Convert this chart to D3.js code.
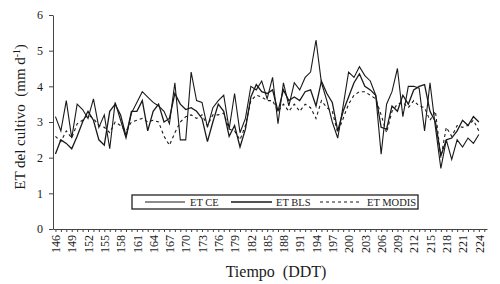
<!DOCTYPE html>
<html>
<head>
<meta charset="utf-8">
<script src="https://cdn.jsdelivr.net/npm/d3@7"></script>
<style>
  body { margin: 0; background: #fff; }
  svg text { font-family: "Liberation Serif", "Times New Roman", serif; fill: #1a1a1a; }
</style>
</head>
<body>
<svg id="et-chart"></svg>
<script>
// Days after planting (DDT)
const days = [146, 147, 148, 149, 150, 151, 152, 153, 154, 155, 156, 157, 158, 159, 160,
    161, 162, 163, 164, 165, 166, 167, 168, 169, 170, 171, 172, 173, 174, 175,
    176, 177, 178, 179, 180, 181, 182, 183, 184, 185, 186, 187, 188, 189, 190,
    191, 192, 193, 194, 195, 196, 197, 198, 199, 200, 201, 202, 203, 204, 205,
    206, 207, 208, 209, 210, 211, 212, 213, 214, 215, 216, 217, 218, 219, 220,
    221, 222, 223, 224];

// ET values (mm/d)
const etCE = [3.15, 2.75, 3.6, 2.55, 3.5, 3.35, 3.1, 3.65, 2.85, 3.2, 2.25, 3.55, 3.05, 2.55, 3.25,
    3.55, 3.85, 3.7, 3.55, 3.45, 3.3, 2.95, 4.1, 2.5, 2.5, 4.4, 3.6, 3.55, 2.85, 3.4,
    3.6, 3.75, 2.8, 3.8, 2.7, 3.1, 4.0, 3.9, 4.15, 3.65, 4.25, 2.95, 4.1, 3.45, 4.1,
    3.9, 4.25, 4.4, 5.3, 4.1, 3.6, 3.0, 2.55, 3.45, 4.4, 4.25, 4.55, 4.3, 4.15, 3.75,
    2.1, 3.5, 3.85, 4.5, 3.15, 4.0, 4.0, 3.95, 2.75, 4.1, 2.85, 1.7, 2.5, 1.95, 2.5,
    2.3, 2.55, 2.4, 2.65];

const etBLS = [2.1, 2.5, 2.4, 2.25, 2.6, 3.0, 3.3, 3.05, 2.5, 2.35, 3.3, 3.5, 3.2, 2.6, 3.3,
    3.3, 3.6, 2.75, 3.3, 3.5, 3.0, 3.1, 3.8, 3.5, 3.35, 3.4, 3.3, 3.1, 2.45, 3.0,
    3.5, 3.3, 2.6, 2.9, 2.3, 2.8, 3.7, 4.05, 3.85, 3.8, 3.9, 3.3, 3.9, 3.6, 3.7,
    3.6, 3.85, 3.9, 3.45, 4.15, 3.8, 3.55, 2.75, 3.3, 3.7, 4.1, 4.35, 4.0, 3.9, 3.75,
    2.85, 2.8, 3.45, 3.3, 3.75, 3.5, 3.9, 4.0, 4.05, 3.3, 3.0, 2.05, 2.5, 2.55, 2.75,
    3.05, 2.9, 3.15, 3.0];

const etMODIS = [2.6, 2.45, 2.75, 2.55, 2.95, 3.05, 3.2, 3.1, 2.9, 2.85, 2.7, 3.0, 2.9, 2.75, 3.0,
    3.05, 3.1, 3.0, 3.05, 3.0, 2.6, 2.35, 2.7, 3.0, 3.15, 3.2, 3.1, 3.2, 2.9, 3.2,
    3.2, 3.25, 2.8, 2.75, 2.5, 2.9, 3.6, 3.75, 3.7, 3.6, 3.6, 3.3, 3.5, 3.3, 3.5,
    3.3, 3.5, 3.4, 3.1, 3.6, 3.4, 3.3, 2.7, 3.1, 3.5, 3.75, 3.85, 3.85, 3.75, 3.65,
    3.2, 2.7, 3.3, 3.5, 3.55, 3.4, 3.6, 3.45, 3.4, 3.05, 3.3, 2.0, 2.85, 2.6, 2.9,
    2.85, 2.9, 3.05, 2.75];

// Axis ticks
const minorTicks = [146, 147, 148, 149, 150, 151, 152, 153, 154, 155, 156, 157, 158, 159, 160,
    161, 162, 163, 164, 165, 166, 167, 168, 169, 170, 171, 172, 173, 174, 175,
    176, 177, 178, 179, 180, 181, 182, 183, 184, 185, 186, 187, 188, 189, 190,
    191, 192, 193, 194, 195, 196, 197, 198, 199, 200, 201, 202, 203, 204, 205,
    206, 207, 208, 209, 210, 211, 212, 213, 214, 215, 216, 217, 218, 219, 220,
    221, 222, 223, 224, 225];
const xTickLabels = [146, 149, 152, 155, 158, 161, 164, 167, 170, 173, 176, 179, 182,
    185, 188, 191, 194, 197, 200, 203, 206, 209, 212, 215, 218, 221, 224];
const yTicks = [0, 1, 2, 3, 4, 5, 6];

const series = [
    { name: "ET CE", values: etCE, width: 1.1, dash: null },
    { name: "ET BLS", values: etBLS, width: 1.3, dash: null },
    { name: "ET MODIS", values: etMODIS, width: 1.1, dash: "3,3" }
];

const totalWidth = 500, totalHeight = 284;
const margin = { top: 15, right: 13, bottom: 55, left: 53 };
const width = totalWidth - margin.left - margin.right;
const height = totalHeight - margin.top - margin.bottom;

const svg = d3.select("#et-chart")
    .attr("width", totalWidth)
    .attr("height", totalHeight);

const g = svg.append("g")
    .attr("transform", `translate(${margin.left},${margin.top})`);

const x = d3.scaleLinear()
    .domain([145.55, 225.5])
    .range([0, width]);

const y = d3.scaleLinear()
    .domain([0, 6])
    .range([height, 0]);

// Lines
const line = d3.line()
    .x((d, i) => x(days[i]))
    .y(d => y(d));

series.forEach(s => {
    g.append("path")
        .datum(s.values)
        .attr("fill", "none")
        .attr("stroke", "#1a1a1a")
        .attr("stroke-width", s.width)
        .attr("stroke-dasharray", s.dash)
        .attr("stroke-linejoin", "miter")
        .attr("d", line);
});

// X axis
const labelSet = new Set(xTickLabels);
const xAxis = g.append("g")
    .attr("transform", `translate(0,${height})`)
    .call(d3.axisBottom(x)
        .tickValues(minorTicks)
        .tickSize(3)
        .tickSizeOuter(0)
        .tickFormat(d => labelSet.has(d) ? d : ""));

xAxis.selectAll("text")
    .attr("transform", "rotate(-90)")
    .attr("x", -6)
    .attr("y", 0)
    .attr("dy", "0.35em")
    .style("text-anchor", "end")
    .style("font-size", "12px");

// Y axis
const yAxis = g.append("g")
    .call(d3.axisLeft(y)
        .tickValues(yTicks)
        .tickSize(4)
        .tickSizeOuter(0)
        .tickFormat(d3.format("d")));

yAxis.selectAll("text")
    .attr("x", -10)
    .style("font-size", "12px");

svg.selectAll(".domain, .tick line")
    .attr("stroke", "#444")
    .attr("stroke-width", 1);

// Axis titles (double spaces kept as in the original figure)
svg.append("text")
    .attr("x", margin.left + width / 2 + 6)
    .attr("y", 277)
    .style("text-anchor", "middle")
    .style("font-size", "16px")
    .text("Tiempo\u00a0\u00a0(DDT)");

const yTitle = svg.append("text")
    .attr("transform", `translate(25,${margin.top + height / 2 - 5}) rotate(-90)`)
    .style("text-anchor", "middle")
    .style("font-size", "15px");
yTitle.append("tspan").text("ET del cultivo\u00a0\u00a0(mm d");
yTitle.append("tspan").attr("dy", -5).style("font-size", "9.5px").text("-1");
yTitle.append("tspan").attr("dy", 5).text(")");

// Legend
const legend = svg.append("g");
legend.append("rect")
    .attr("x", 132)
    .attr("y", 195)
    .attr("width", 286)
    .attr("height", 14)
    .attr("fill", "#fff")
    .attr("stroke", "#222")
    .attr("stroke-width", 1.3);

const legendItems = [
    { x1: 145, x2: 185, tx: 190 },
    { x1: 231, x2: 272, tx: 276 },
    { x1: 320, x2: 360, tx: 367 }
];

series.forEach((s, i) => {
    const it = legendItems[i];
    legend.append("line")
        .attr("x1", it.x1).attr("x2", it.x2)
        .attr("y1", 202).attr("y2", 202)
        .attr("stroke", "#1a1a1a")
        .attr("stroke-width", s.width)
        .attr("stroke-dasharray", s.dash);
    legend.append("text")
        .attr("x", it.tx)
        .attr("y", 202)
        .attr("dy", "0.35em")
        .style("font-size", "10.5px")
        .text(s.name);
});
</script>
</body>
</html>
